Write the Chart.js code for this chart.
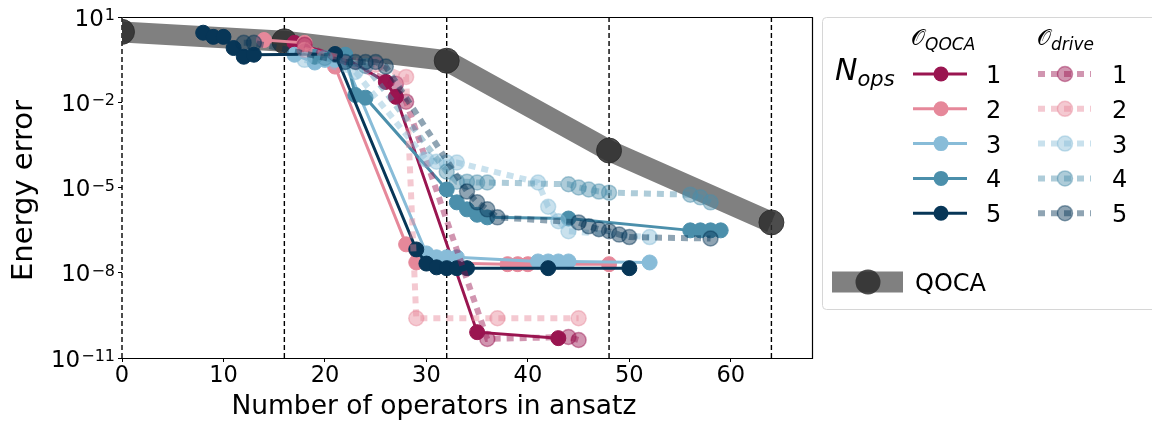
<!DOCTYPE html>
<html>
<head>
<meta charset="utf-8">
<script src="https://cdn.jsdelivr.net/npm/chart.js@4.4.0/dist/chart.umd.min.js"></script>
<style>
html, body { margin: 0; padding: 0; background: #fff; }
#wrap { position: relative; width: 1152px; height: 426px; overflow: hidden; }
#chart { position: absolute; left: 0; top: 0; }
#legend { position: absolute; left: 822px; top: 17px; font-family: 'DejaVu Sans', sans-serif; }
</style>
</head>
<body>
<div id="wrap">
	<canvas id="chart" width="1152" height="426"></canvas>
	<svg id="legend" width="330" height="296" xmlns="http://www.w3.org/2000/svg"></svg>
</div>
<script>
'use strict';

// axis ticks and block boundaries
const xTicks = [0, 10, 20, 30, 40, 50, 60];
const yTicks = [1e-11, 1e-8, 1e-5, 1e-2, 1e1];
const blockEdges = [0, 16, 32, 48, 64];

// QOCA reference
const qocaOps = [0, 16, 32, 48, 64];
const qocaErr = [3.0, 1.4, 0.29, 2.0e-4, 5.9e-7];

// operators added per step
const nOps = [1, 2, 3, 4, 5];

// O_QOCA pool
const ops1 = [17, 22, 26, 27, 35, 43];
const err1 = [1.23, 0.36, 0.052, 0.0155, 8.1e-11, 5.0e-11];
const ops2 = [14, 18, 21, 28, 29, 38, 39, 40, 48];
const err2 = [1.55, 1.23, 0.18, 1.0e-7, 2.3e-8, 2.0e-8, 2.0e-8, 2.0e-8, 2.0e-8];
const ops3 = [17, 19, 20, 21, 22, 30, 31, 32, 33, 41, 42, 43, 44, 52];
const err3 = [0.47, 0.25, 0.31, 0.31, 0.26, 4.8e-8, 3.5e-8, 3.5e-8, 3.5e-8, 2.5e-8, 2.5e-8, 2.5e-8, 2.5e-8, 2.3e-8];
const ops4 = [19, 22, 23, 24, 32, 33, 34, 35, 36, 44, 56, 57, 58, 59];
const err4 = [0.40, 0.47, 0.018, 0.0145, 8.5e-6, 3.0e-6, 1.7e-6, 1.1e-6, 8.9e-7, 8.1e-7, 3.1e-7, 3.1e-7, 3.1e-7, 3.1e-7];
const ops5 = [8, 9, 10, 11, 12, 13, 21, 29, 30, 31, 32, 33, 34, 42, 50];
const err5 = [2.8, 2.0, 2.0, 0.81, 0.40, 0.47, 0.50, 6.6e-8, 2.1e-8, 1.55e-8, 1.45e-8, 1.45e-8, 1.45e-8, 1.45e-8, 1.45e-8];

// O_drive pool
const driveOps1 = [18, 27, 28, 36, 44, 45];
const driveErr1 = [1.05, 0.045, 0.0105, 4.7e-11, 5.5e-11, 4.3e-11];
const driveOps2 = [18, 25, 28, 29, 37, 45];
const driveErr2 = [0.69, 0.21, 0.078, 2.5e-10, 2.5e-10, 2.5e-10];
const driveOps3 = [18, 23, 30, 31, 32, 33, 41, 42, 43, 44, 52];
const driveErr3 = [0.31, 0.117, 9.5e-5, 8.1e-5, 7.6e-5, 7.6e-5, 1.5e-5, 2.1e-6, 6.5e-7, 2.9e-7, 1.8e-7];
const driveOps4 = [20, 24, 32, 33, 34, 35, 36, 44, 45, 46, 47, 48, 56, 57, 58];
const driveErr4 = [0.36, 0.19, 3.6e-5, 1.6e-5, 1.6e-5, 1.5e-5, 1.5e-5, 1.3e-5, 1.0e-5, 8.5e-6, 7.2e-6, 6.6e-6, 5.6e-6, 4.5e-6, 3.0e-6];
const driveOps5 = [12, 13, 22, 23, 24, 25, 26, 34, 35, 36, 37, 45, 46, 47, 48, 49, 50, 58];
const driveErr5 = [1.23, 1.23, 0.26, 0.26, 0.26, 0.26, 0.18, 7.2e-6, 3.0e-6, 1.7e-6, 8.9e-7, 5.9e-7, 4.3e-7, 3.4e-7, 2.9e-7, 2.2e-7, 1.8e-7, 1.6e-7];

const qocaRuns = [[ops1, err1], [ops2, err2], [ops3, err3], [ops4, err4], [ops5, err5]];
const driveRuns = [[driveOps1, driveErr1], [driveOps2, driveErr2], [driveOps3, driveErr3], [driveOps4, driveErr4], [driveOps5, driveErr5]];

const colors = ['#9a1550', '#e6889a', '#88bcd8', '#4b8fab', '#073657'];
const FONT = "'DejaVu Sans', sans-serif";

const rgba = function(hex, a) {
	const n = parseInt(hex.slice(1), 16);
	return 'rgba(' + (n >> 16) + ',' + ((n >> 8) & 255) + ',' + (n & 255) + ',' + a + ')';
};

const points = (xs, ys) => xs.map((x, i) => ({x: x, y: ys[i]}));

const datasets = [];

// drive runs on top, first dataset is drawn last
for (let i = driveRuns.length - 1; i >= 0; i--) {
	datasets.push({
		data: points(driveRuns[i][0], driveRuns[i][1]),
		borderColor: rgba(colors[i], 0.45),
		borderWidth: 6,
		borderDash: [7, 6],
		borderCapStyle: 'butt',
		pointRadius: 7.5,
		pointBackgroundColor: rgba(colors[i], 0.45),
		pointBorderColor: rgba(colors[i], 0.45),
		pointBorderWidth: 1.5,
		clip: 0,
		tension: 0
	});
}

for (let i = qocaRuns.length - 1; i >= 0; i--) {
	datasets.push({
		data: points(qocaRuns[i][0], qocaRuns[i][1]),
		borderColor: colors[i],
		borderWidth: 3,
		pointRadius: 7.5,
		pointBackgroundColor: colors[i],
		pointBorderColor: colors[i],
		pointBorderWidth: 1,
		clip: 0,
		tension: 0
	});
}

datasets.push({
	data: points(qocaOps, qocaErr),
	borderColor: '#808080',
	borderWidth: 21,
	borderCapStyle: 'butt',
	borderJoinStyle: 'round',
	pointRadius: 12.5,
	pointBackgroundColor: 'rgba(45,45,45,0.85)',
	pointBorderColor: 'rgba(45,45,45,0.85)',
	pointBorderWidth: 1,
	clip: 0,
	tension: 0
});

blockEdges.forEach(x => {
	datasets.push({
		data: points([x, x], [yTicks[0], yTicks[yTicks.length - 1]]),
		borderColor: '#000',
		borderWidth: 1.4,
		borderDash: [5, 3],
		pointRadius: 0,
		clip: false
	});
});

// top, right and bottom spines; the x = 0 block line stands in for the left one
const frame = {
	id: 'frame',
	beforeDatasetsDraw(chart) {
		const a = chart.chartArea;
		const ctx = chart.ctx;
		const l = Math.round(a.left) + 0.5, t = Math.round(a.top) + 0.5;
		const r = Math.round(a.right) + 0.5, b = Math.round(a.bottom) + 0.5;
		ctx.save();
		ctx.strokeStyle = '#000';
		ctx.lineWidth = 1.2;
		ctx.beginPath();
		ctx.moveTo(l, t);
		ctx.lineTo(r, t);
		ctx.lineTo(r, b);
		ctx.lineTo(l, b);
		ctx.stroke();
		ctx.restore();
	}
};

// 10^n labels with a raised exponent, and both axis titles
const axisText = {
	id: 'axisText',
	afterDraw(chart) {
		const ctx = chart.ctx;
		const y = chart.scales.y;
		const a = chart.chartArea;
		ctx.save();
		ctx.fillStyle = '#000';
		ctx.textBaseline = 'alphabetic';
		ctx.textAlign = 'right';
		yTicks.forEach(v => {
			const py = y.getPixelForValue(v);
			const exp = Math.round(Math.log10(v)).toString().replace('-', '\u2212');
			ctx.font = '16px ' + FONT;
			const ew = ctx.measureText(exp).width;
			const right = a.left - 7;
			ctx.fillText(exp, right, py + 3);
			ctx.font = '23px ' + FONT;
			ctx.fillText('10', right - ew - 1, py + 8.5);
		});
		ctx.textAlign = 'center';
		ctx.font = '26.5px ' + FONT;
		ctx.fillText('Number of operators in ansatz', a.left + (a.right - a.left) * 0.452, 414);

		ctx.translate(32, (a.top + a.bottom) / 2 + 3);
		ctx.rotate(-Math.PI / 2);
		ctx.font = '29px ' + FONT;
		ctx.fillText('Energy error', 0, 0);
		ctx.restore();
	}
};

new Chart(document.getElementById('chart'), {
	type: 'line',
	data: {datasets: datasets},
	options: {
		responsive: false,
		animation: false,
		layout: {padding: {top: 17, right: 340, left: 0, bottom: 0}},
		plugins: {legend: {display: false}, tooltip: {enabled: false}},
		scales: {
			x: {
				type: 'linear',
				min: 0,
				max: 68,
				afterBuildTicks: s => { s.ticks = xTicks.map(v => ({value: v})); },
				afterFit: s => { s.height = 68; },
				border: {display: false},
				grid: {drawOnChartArea: false, tickLength: 4, color: '#000', tickWidth: 1},
				ticks: {font: {family: FONT, size: 22.5}, color: '#000', padding: 1, maxRotation: 0}
			},
			y: {
				type: 'logarithmic',
				min: yTicks[0],
				max: yTicks[yTicks.length - 1],
				afterBuildTicks: s => { s.ticks = yTicks.map(v => ({value: v})); },
				afterFit: s => { s.width = 122; },
				border: {display: false},
				grid: {drawOnChartArea: false, tickLength: 4, color: '#000', tickWidth: 1},
				ticks: {font: {family: FONT, size: 22}, color: '#000', padding: 3, callback: () => ''}
			}
		}
	},
	plugins: [frame, axisText]
});

// legend panel
const svg = document.getElementById('legend');
const NS = 'http://www.w3.org/2000/svg';
const el = function(tag, attrs, parent) {
	const node = document.createElementNS(NS, tag);
	for (let k in attrs) {
		node.setAttribute(k, attrs[k]);
	}
	(parent || svg).appendChild(node);
	return node;
};
const label = function(x, y, size, parts) {
	const t = el('text', {x: x, y: y, 'font-size': size, fill: '#000'});
	parts.forEach(p => {
		const span = el('tspan', p.attrs || {}, t);
		span.textContent = p.text;
	});
	return t;
};

el('rect', {x: 0.5, y: 0.5, width: 340, height: 292, rx: 4, fill: '#fff', stroke: '#d6d6d6', 'stroke-width': 1});

label(89, 28, 22, [{text: '\u{1D4AA}'}, {text: 'QOCA', attrs: {'font-style': 'italic', 'font-size': 17, dy: 5}}]);
label(215, 28, 22, [{text: '\u{1D4AA}'}, {text: 'drive', attrs: {'font-style': 'italic', 'font-size': 17, dy: 5}}]);
label(13, 63, 30, [{text: 'N', attrs: {'font-style': 'italic'}}, {text: 'ops', attrs: {'font-style': 'italic', 'font-size': 21, dy: 6}}]);

nOps.forEach((n, i) => {
	const cy = 57 + i * 34.8;
	el('line', {x1: 91, y1: cy, x2: 145, y2: cy, stroke: colors[i], 'stroke-width': 3});
	el('circle', {cx: 119, cy: cy, r: 7.5, fill: colors[i]});
	label(164, cy + 9, 24, [{text: String(n)}]);

	el('line', {x1: 216, y1: cy, x2: 269, y2: cy, stroke: colors[i], 'stroke-opacity': 0.45,
		'stroke-width': 6, 'stroke-dasharray': '7 6'});
	el('circle', {cx: 243, cy: cy, r: 7.5, fill: rgba(colors[i], 0.45), stroke: rgba(colors[i], 0.45), 'stroke-width': 1.5});
	label(290, cy + 9, 24, [{text: String(n)}]);
});

el('line', {x1: 10, y1: 265, x2: 81, y2: 265, stroke: '#808080', 'stroke-width': 21});
el('circle', {cx: 46, cy: 265, r: 12.5, fill: 'rgba(45,45,45,0.85)'});
label(93, 274, 24, [{text: 'QOCA'}]);
</script>
</body>
</html>
